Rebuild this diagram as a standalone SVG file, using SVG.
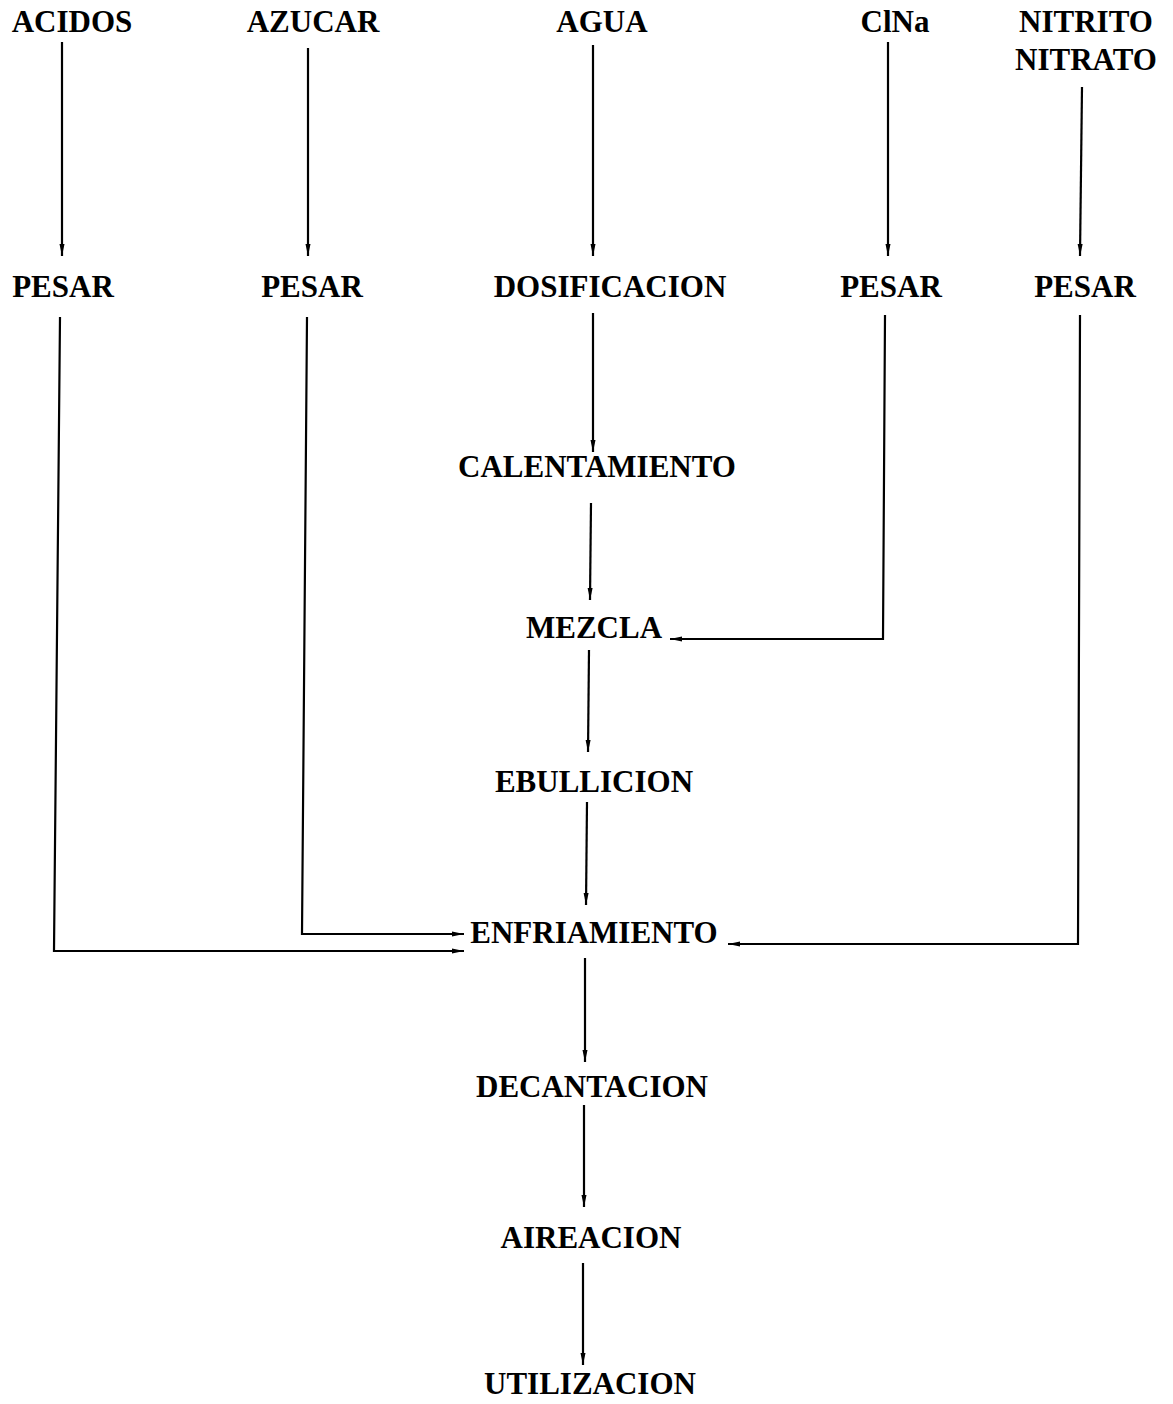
<svg xmlns="http://www.w3.org/2000/svg" width="1173" height="1404" viewBox="0 0 1173 1404">
<style>
  text { font-family: "Liberation Serif", "Times New Roman", serif; font-weight: bold; font-size: 31px; fill: #000; text-anchor: middle; }
  .c { fill: none; stroke: #000; stroke-width: 2.2; }
</style>
<defs>
  <marker id="ah" viewBox="0 0 12 6" refX="12" refY="3" markerWidth="12" markerHeight="6" markerUnits="userSpaceOnUse" orient="auto">
    <path d="M0,0.5 L12,3 L0,5.5 Z" fill="#000"/>
  </marker>
</defs>
<rect width="1173" height="1404" fill="#fff"/>
<g id="connectors">
  <path class="c" d="M62,42 L62,256" marker-end="url(#ah)"/>
  <path class="c" d="M308,48 L308,256" marker-end="url(#ah)"/>
  <path class="c" d="M593,45 L593,256" marker-end="url(#ah)"/>
  <path class="c" d="M888,42 L888,256" marker-end="url(#ah)"/>
  <path class="c" d="M1082,87 L1080,256" marker-end="url(#ah)"/>
  <path class="c" d="M593,313 L593,452" marker-end="url(#ah)"/>
  <path class="c" d="M591,503 L590,600" marker-end="url(#ah)"/>
  <path class="c" d="M885,315 L883,639 L670,639" marker-end="url(#ah)"/>
  <path class="c" d="M589,650 L588,752" marker-end="url(#ah)"/>
  <path class="c" d="M587,802 L586,905" marker-end="url(#ah)"/>
  <path class="c" d="M60,317 L54,951 L464,951" marker-end="url(#ah)"/>
  <path class="c" d="M307,317 L302,934 L464,934" marker-end="url(#ah)"/>
  <path class="c" d="M1080,315 L1078,944 L728,944" marker-end="url(#ah)"/>
  <path class="c" d="M585,958 L585,1062" marker-end="url(#ah)"/>
  <path class="c" d="M584,1105 L584,1207" marker-end="url(#ah)"/>
  <path class="c" d="M583,1263 L583,1365" marker-end="url(#ah)"/>
</g>
<g id="acidos"><text x="72" y="32">ACIDOS</text></g>
<g id="azucar"><text x="313" y="32">AZUCAR</text></g>
<g id="agua"><text x="602" y="32">AGUA</text></g>
<g id="clna"><text x="895" y="32">ClNa</text></g>
<g id="nitrito"><text x="1086" y="32">NITRITO</text><text x="1086" y="70">NITRATO</text></g>
<g id="pesar1"><text x="63" y="297">PESAR</text></g>
<g id="pesar2"><text x="312" y="297">PESAR</text></g>
<g id="dosificacion"><text x="610" y="297">DOSIFICACION</text></g>
<g id="pesar3"><text x="891" y="297">PESAR</text></g>
<g id="pesar4"><text x="1085" y="297">PESAR</text></g>
<g id="calentamiento"><text x="597" y="477">CALENTAMIENTO</text></g>
<g id="mezcla"><text x="594" y="638">MEZCLA</text></g>
<g id="ebullicion"><text x="594" y="792">EBULLICION</text></g>
<g id="enfriamiento"><text x="594" y="943">ENFRIAMIENTO</text></g>
<g id="decantacion"><text x="592" y="1097">DECANTACION</text></g>
<g id="aireacion"><text x="591" y="1248">AIREACION</text></g>
<g id="utilizacion"><text x="590" y="1394">UTILIZACION</text></g>
</svg>
